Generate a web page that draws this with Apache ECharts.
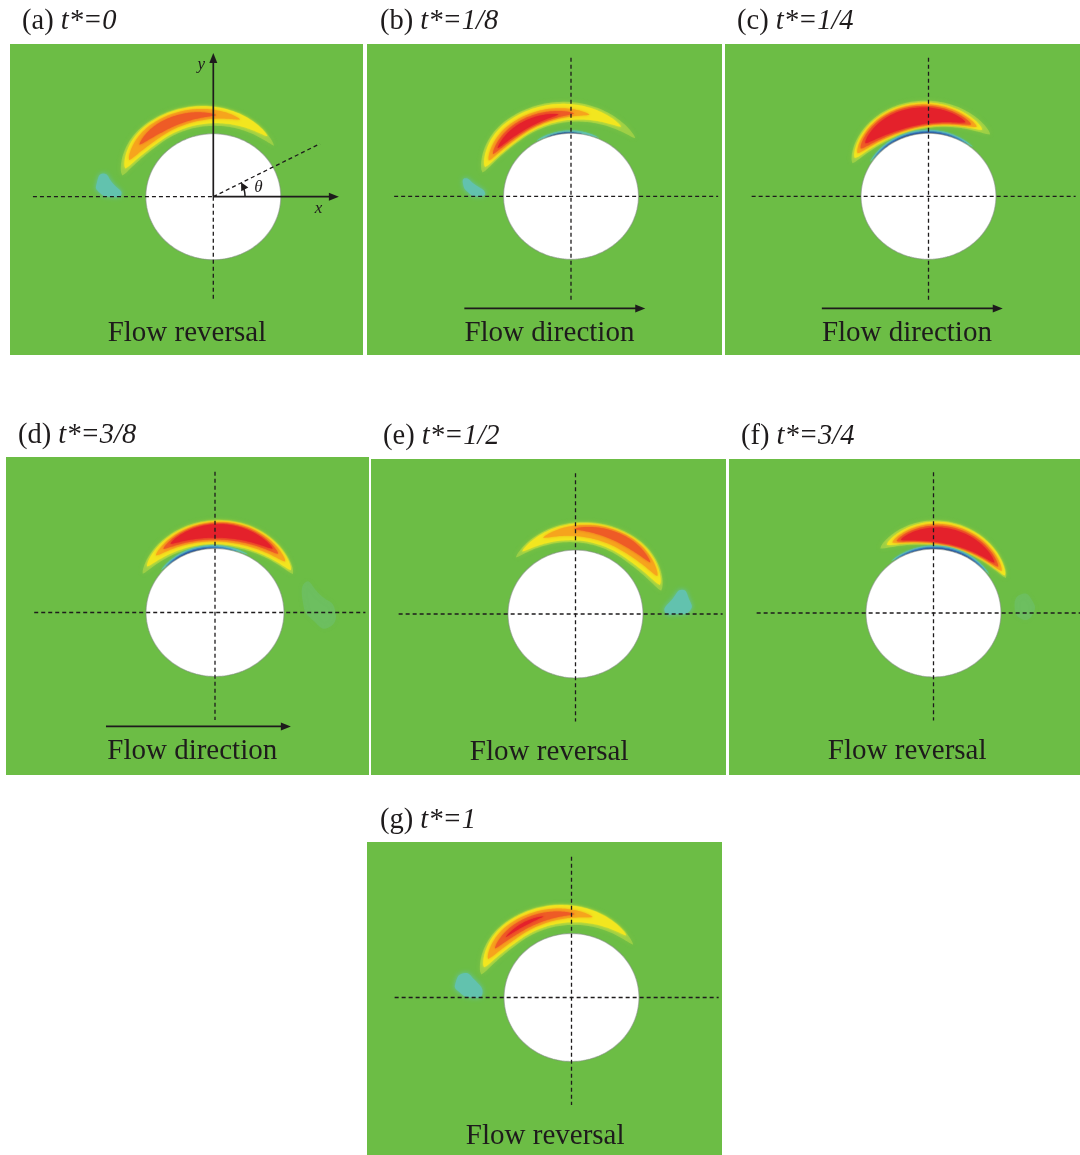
<!DOCTYPE html>
<html>
<head>
<meta charset="utf-8">
<script src="https://cdn.jsdelivr.net/npm/echarts/dist/echarts.min.js"></script>
<style>
  html, body { margin: 0; padding: 0; background: #ffffff; }
  #chart { width: 1080px; height: 1155px; }
</style>
</head>
<body>
<div id="chart"></div>
<script>
// ---------------------------------------------------------------------------
// Vorticity around an oscillating cylinder, seven phases of one cycle.
// Coordinates are in cylinder diameters, origin at the cylinder centre.
// ---------------------------------------------------------------------------

const PANEL_TAGS = ['(a)', '(b)', '(c)', '(d)', '(e)', '(f)', '(g)'];
const PHASES = ['0', '1/8', '1/4', '3/8', '1/2', '3/4', '1'];
const FLOW_NOTES = ['Flow reversal', 'Flow direction', 'Flow direction', 'Flow direction',
                    'Flow reversal', 'Flow reversal', 'Flow reversal'];
const CYLINDER_RADIUS = 0.5;

// Contour bands around the cylinder, in polar form (degrees / diameters):
// [level, thetaStart, thetaEnd, radiusStart, radiusEnd, halfWidth, peakPosition]
// level 0 = weak positive halo ... 4 = strongest positive, -1..-3 = negative
const BANDS_A = [
  [0, 166, 42, 0.695, 0.605, 0.095, 0.28],
  [1, 161, 50, 0.690, 0.625, 0.082, 0.28],
  [2, 155, 72, 0.688, 0.645, 0.060, 0.32],
  [3, 143, 88, 0.685, 0.648, 0.038, 0.38]
];
const BANDS_B = [
  [0, 164, 44, 0.682, 0.662, 0.095, 0.30],
  [1, 160, 56, 0.678, 0.665, 0.082, 0.30],
  [2, 155, 78, 0.672, 0.662, 0.060, 0.35],
  [3, 150, 88, 0.668, 0.658, 0.045, 0.40],
  [4, 145, 98, 0.664, 0.656, 0.030, 0.45],
  [-1, 120, 66, 0.510, 0.508, 0.014, 0.50],
  [-3, 112, 80, 0.500, 0.500, 0.008, 0.50]
];
const BANDS_C = [
  [0, 155, 47, 0.622, 0.670, 0.115, 0.45],
  [1, 151, 53, 0.625, 0.662, 0.104, 0.45],
  [2, 147, 57, 0.627, 0.657, 0.092, 0.45],
  [3, 143, 61, 0.629, 0.652, 0.082, 0.45],
  [4, 138, 65, 0.630, 0.648, 0.070, 0.45],
  [-1, 148, 50, 0.512, 0.512, 0.016, 0.50],
  [-2, 144, 55, 0.505, 0.505, 0.011, 0.50],
  [-3, 136, 64, 0.500, 0.500, 0.008, 0.50]
];
const BANDS_D = [
  [0, 150, 28, 0.605, 0.640, 0.102, 0.55],
  [1, 144, 31, 0.610, 0.642, 0.092, 0.55],
  [2, 134, 38, 0.618, 0.646, 0.076, 0.55],
  [3, 127, 45, 0.622, 0.648, 0.064, 0.52],
  [4, 121, 50, 0.627, 0.650, 0.053, 0.50],
  [-1, 140, 62, 0.512, 0.512, 0.016, 0.45],
  [-2, 135, 72, 0.505, 0.505, 0.011, 0.45],
  [-3, 131, 88, 0.500, 0.500, 0.008, 0.50]
];
const BANDS_E = [
  [0, 135, 16, 0.625, 0.660, 0.095, 0.70],
  [1, 129, 20, 0.628, 0.665, 0.082, 0.70],
  [2, 112, 26, 0.642, 0.675, 0.060, 0.65],
  [3, 91, 36, 0.665, 0.685, 0.034, 0.60]
];
const BANDS_F = [
  [0, 128, 27, 0.640, 0.602, 0.100, 0.45],
  [1, 123, 29, 0.635, 0.605, 0.092, 0.45],
  [2, 119, 33, 0.630, 0.602, 0.080, 0.45],
  [3, 116, 37, 0.625, 0.600, 0.070, 0.45],
  [4, 113, 41, 0.620, 0.598, 0.059, 0.45],
  [-1, 128, 36, 0.512, 0.512, 0.016, 0.50],
  [-2, 125, 40, 0.505, 0.505, 0.011, 0.50],
  [-3, 119, 48, 0.500, 0.500, 0.008, 0.50]
];
const BANDS_G = [
  [0, 165, 42, 0.692, 0.615, 0.095, 0.28],
  [1, 160, 50, 0.690, 0.632, 0.082, 0.28],
  [2, 154, 76, 0.688, 0.648, 0.060, 0.32],
  [3, 146, 88, 0.684, 0.652, 0.038, 0.38],
  [4, 136, 108, 0.678, 0.666, 0.013, 0.50]
];

// Shed negative-vorticity patches: [level, outline points (x, y)]
const BLOBS_A = [[-1, [[-0.815, 0.185], [-0.74, 0.10], [-0.68, 0.02], [-0.76, 0.00], [-0.85, 0.04], [-0.865, 0.10]]]];
const BLOBS_B = [[-1, [[-0.784, 0.143], [-0.72, 0.10], [-0.636, 0.024], [-0.70, 0.00], [-0.76, 0.03], [-0.80, 0.10]]]];
const BLOBS_C = [];
const BLOBS_D = [[-0.5, [[0.66, 0.24], [0.76, 0.14], [0.87, 0.02], [0.82, -0.12], [0.71, -0.06], [0.64, 0.06]]]];
const BLOBS_E = [[-1, [[0.79, 0.19], [0.84, 0.12], [0.85, 0.03], [0.75, 0.00], [0.66, 0.02], [0.72, 0.12]]]];
const BLOBS_F = [[-0.5, [[0.60, 0.06], [0.66, 0.15], [0.73, 0.10], [0.74, 0.00], [0.66, -0.05]]]];
const BLOBS_G = [[-1, [[-0.80, 0.19], [-0.72, 0.14], [-0.66, 0.03], [-0.74, 0.00], [-0.84, 0.05], [-0.86, 0.11]]]];

// Reference lines: [x1, y1, x2, y2, kind]  kind 0 = dashed, 1 = arrow
const CROSS_LINES = [[-1.31, 0, 1.09, 0, 0], [0, 1.10, 0, -0.84, 0]];
const FLOW_ARROW = [[-0.79, -0.89, 0.55, -0.89, 1]];
const FRAME_A = [[-1.336, 0, 0, 0, 0], [0, 0, 0, -0.82, 0], [0, 0, 0.93, 0, 1],
                 [0, 0, 0, 1.14, 1], [0, 0, 0.79, 0.42, 0]];
// Axis symbols of panel (a): [text, x, y]
const FRAME_A_LABELS = [['y', -0.09, 1.045], ['x', 0.78, -0.092], ['θ', 0.335, 0.07]];
// Angle marker of panel (a): [radius, fromDeg, toDeg]
const FRAME_A_ANGLE = [[0.235, 0, 29]];
// Caption anchor below each cylinder, one per panel
const NOTE_ANCHORS = [[-0.195, -1.085], [-0.16, -1.085], [-0.16, -1.085], [-0.165, -1.085],
                      [-0.195, -1.085], [-0.195, -1.085], [-0.195, -1.085]];

const BANDS = [BANDS_A, BANDS_B, BANDS_C, BANDS_D, BANDS_E, BANDS_F, BANDS_G];
const BLOBS = [BLOBS_A, BLOBS_B, BLOBS_C, BLOBS_D, BLOBS_E, BLOBS_F, BLOBS_G];
const GUIDES = [FRAME_A, CROSS_LINES.concat(FLOW_ARROW), CROSS_LINES.concat(FLOW_ARROW),
                CROSS_LINES.concat(FLOW_ARROW), CROSS_LINES, CROSS_LINES, CROSS_LINES];

// ---------------------------------------------------------------------------
// Layout (pixels): panel rectangle, cylinder centre and pixels per diameter
// ---------------------------------------------------------------------------
const LAYOUT = [
  { left: 10,  top: 44,  width: 353, height: 311, cx: 213.3, cy: 196.7, sx: 135, sy: 126, tx: 22,  ty: 22 },
  { left: 367, top: 44,  width: 355, height: 311, cx: 571.0, cy: 196.3, sx: 135, sy: 126, tx: 380, ty: 22 },
  { left: 725, top: 44,  width: 355, height: 311, cx: 928.5, cy: 196.3, sx: 135, sy: 126, tx: 737, ty: 22 },
  { left: 6,   top: 457, width: 363, height: 318, cx: 215.0, cy: 612.5, sx: 138, sy: 128, tx: 18,  ty: 436 },
  { left: 371, top: 459, width: 355, height: 316, cx: 575.5, cy: 614.0, sx: 135, sy: 128, tx: 383, ty: 437 },
  { left: 729, top: 459, width: 351, height: 316, cx: 933.5, cy: 613.0, sx: 135, sy: 128, tx: 741, ty: 437 },
  { left: 367, top: 842, width: 355, height: 313, cx: 571.5, cy: 997.5, sx: 135, sy: 128, tx: 380, ty: 821 }
];

const FIELD_GREEN = '#6cbd45';
const INK = '#1e1b1c';
const SERIF = '"Liberation Serif", "DejaVu Serif", serif';
const LEVEL_FILL = {
  '0': 'rgba(205,226,72,0.45)',
  '1': '#f2e61f',
  '2': '#f6a41d',
  '3': '#ee5b26',
  '4': '#e4212b',
  '-0.5': 'rgba(112,196,150,0.28)',
  '-1': '#62c2ae',
  '-2': '#3b86c4',
  '-3': '#234f9b'
};

// crescent outline from a polar band description
function bandOutline(api, tA, tB, rA, rB, h, peak) {
  const outer = [], inner = [];
  const N = 80;
  for (let k = 0; k <= N; k++) {
    const t = k / N;
    const s = t < peak ? 0.5 * t / peak : 0.5 + 0.5 * (t - peak) / (1 - peak);
    const w = h * Math.pow(Math.max(Math.sin(Math.PI * s), 0), 0.7);
    const th = (tA + (tB - tA) * t) * Math.PI / 180;
    const r = rA + (rB - rA) * t;
    outer.push(api.coord([(r + w) * Math.cos(th), (r + w) * Math.sin(th)]));
    inner.push(api.coord([(r - w) * Math.cos(th), (r - w) * Math.sin(th)]));
  }
  return outer.concat(inner.reverse());
}

function renderBand(params, api) {
  const lvl = api.value(0);
  const fill = LEVEL_FILL[String(lvl)];
  const pts = bandOutline(api, api.value(1), api.value(2), api.value(3),
                          api.value(4), api.value(5), api.value(6));
  return {
    type: 'polygon',
    shape: { points: pts },
    style: { fill: fill, shadowBlur: lvl === 0 ? 5 : (lvl < 0 ? 2 : 3), shadowColor: fill },
    silent: true
  };
}

function blobRenderer(blobs) {
  return function (params, api) {
    const b = blobs[params.dataIndex];
    const fill = LEVEL_FILL[String(b[0])];
    return {
      type: 'polygon',
      shape: { points: b[1].map(p => api.coord(p)), smooth: 0.6 },
      style: { fill: fill, shadowBlur: 5, shadowColor: fill },
      silent: true
    };
  };
}

function renderCylinder(params, api) {
  const cx = api.value(0), cy = api.value(1), r = api.value(2);
  const pts = [];
  for (let k = 0; k < 180; k++) {
    const a = k / 180 * Math.PI * 2;
    pts.push(api.coord([cx + r * Math.cos(a), cy + r * Math.sin(a)]));
  }
  return {
    type: 'polygon',
    shape: { points: pts },
    style: { fill: '#ffffff', stroke: 'rgba(130,140,130,0.55)', lineWidth: 1.2 },
    silent: true
  };
}

function arrowHead(tip, from, len, half) {
  const dx = tip[0] - from[0], dy = tip[1] - from[1];
  const d = Math.hypot(dx, dy) || 1;
  const ux = dx / d, uy = dy / d;
  const bx = tip[0] - ux * len, by = tip[1] - uy * len;
  return [tip, [bx - uy * half, by + ux * half], [bx + uy * half, by - ux * half]];
}

function renderGuide(params, api) {
  const p1 = api.coord([api.value(0), api.value(1)]);
  const p2 = api.coord([api.value(2), api.value(3)]);
  const kind = api.value(4);
  if (kind === 0) {
    return {
      type: 'line',
      shape: { x1: p1[0], y1: p1[1], x2: p2[0], y2: p2[1] },
      style: { stroke: INK, lineWidth: 1.3, lineDash: [4, 3] },
      silent: true
    };
  }
  const head = arrowHead(p2, p1, 10, 4);
  const d = Math.hypot(p2[0] - p1[0], p2[1] - p1[1]);
  const ex = p2[0] - (p2[0] - p1[0]) / d * 8, ey = p2[1] - (p2[1] - p1[1]) / d * 8;
  return {
    type: 'group',
    children: [
      { type: 'line', shape: { x1: p1[0], y1: p1[1], x2: ex, y2: ey },
        style: { stroke: INK, lineWidth: 1.7 } },
      { type: 'polygon', shape: { points: head }, style: { fill: INK } }
    ],
    silent: true
  };
}

function renderAngle(params, api) {
  const r = api.value(0), a0 = api.value(1), a1 = api.value(2);
  const pts = [];
  for (let k = 0; k <= 20; k++) {
    const a = (a0 + (a1 - a0) * k / 20) * Math.PI / 180;
    pts.push(api.coord([r * Math.cos(a), r * Math.sin(a)]));
  }
  const tip = pts[pts.length - 1], prev = pts[pts.length - 5];
  return {
    type: 'group',
    children: [
      { type: 'polyline', shape: { points: pts.slice(0, pts.length - 3) },
        style: { stroke: INK, lineWidth: 1.5, fill: null } },
      { type: 'polygon', shape: { points: arrowHead(tip, prev, 8, 4) }, style: { fill: INK } }
    ],
    silent: true
  };
}

function labelRenderer(items) {
  return function (params, api) {
    const it = items[params.dataIndex];
    const p = api.coord([it[1], it[2]]);
    return {
      type: 'text',
      x: p[0], y: p[1],
      style: { text: it[0], font: 'italic 17px ' + SERIF, fill: INK, align: 'center', verticalAlign: 'middle' },
      silent: true
    };
  };
}

function noteRenderer(text) {
  return function (params, api) {
    const p = api.coord([api.value(0), api.value(1)]);
    return {
      type: 'text',
      x: p[0], y: p[1],
      style: { text: text, font: '29px ' + SERIF, fill: INK, align: 'center', verticalAlign: 'middle' },
      silent: true
    };
  };
}

const grids = [], xAxes = [], yAxes = [], series = [], titles = [];

LAYOUT.forEach((L, i) => {
  grids.push({
    left: L.left, top: L.top, width: L.width, height: L.height,
    show: true, backgroundColor: FIELD_GREEN, borderWidth: 0
  });
  xAxes.push({
    type: 'value', gridIndex: i, show: false,
    min: (L.left - L.cx) / L.sx, max: (L.left + L.width - L.cx) / L.sx
  });
  yAxes.push({
    type: 'value', gridIndex: i, show: false,
    min: (L.cy - L.top - L.height) / L.sy, max: (L.cy - L.top) / L.sy
  });
  titles.push({
    text: '{r|' + PANEL_TAGS[i] + ' }{i|t*=' + PHASES[i] + '}',
    left: L.tx, top: L.ty - 15, padding: 0,
    textStyle: {
      fontWeight: 'normal',
      rich: {
        r: { fontFamily: SERIF, fontSize: 28.5, fontWeight: 'normal', color: INK, lineHeight: 30 },
        i: { fontFamily: SERIF, fontSize: 28.5, fontWeight: 'normal', fontStyle: 'italic', color: INK, lineHeight: 30 }
      }
    }
  });

  const common = { type: 'custom', coordinateSystem: 'cartesian2d', xAxisIndex: i, yAxisIndex: i, silent: true };
  series.push(Object.assign({}, common, { name: 'vorticity ' + PANEL_TAGS[i], renderItem: renderBand, data: BANDS[i], z: 2 }));
  if (BLOBS[i].length) {
    series.push(Object.assign({}, common, { name: 'shed ' + PANEL_TAGS[i], renderItem: blobRenderer(BLOBS[i]),
                                            data: BLOBS[i].map((b, k) => [k, 0]), z: 3 }));
  }
  series.push(Object.assign({}, common, { name: 'cylinder ' + PANEL_TAGS[i], renderItem: renderCylinder,
                                          data: [[0, 0, CYLINDER_RADIUS]], z: 4 }));
  series.push(Object.assign({}, common, { name: 'guides ' + PANEL_TAGS[i], renderItem: renderGuide,
                                          data: GUIDES[i], z: 5 }));
  series.push(Object.assign({}, common, { name: 'note ' + PANEL_TAGS[i], renderItem: noteRenderer(FLOW_NOTES[i]),
                                          data: [NOTE_ANCHORS[i]], z: 6 }));
  if (i === 0) {
    series.push(Object.assign({}, common, { name: 'angle', renderItem: renderAngle, data: FRAME_A_ANGLE, z: 6 }));
    series.push(Object.assign({}, common, { name: 'axis symbols', renderItem: labelRenderer(FRAME_A_LABELS),
                                            data: FRAME_A_LABELS.map(l => [l[1], l[2]]), z: 6 }));
  }
});

const chart = echarts.init(document.getElementById('chart'), null, { renderer: 'canvas' });
chart.setOption({
  animation: false,
  backgroundColor: '#ffffff',
  title: titles,
  grid: grids,
  xAxis: xAxes,
  yAxis: yAxes,
  series: series
});
</script>
</body>
</html>
